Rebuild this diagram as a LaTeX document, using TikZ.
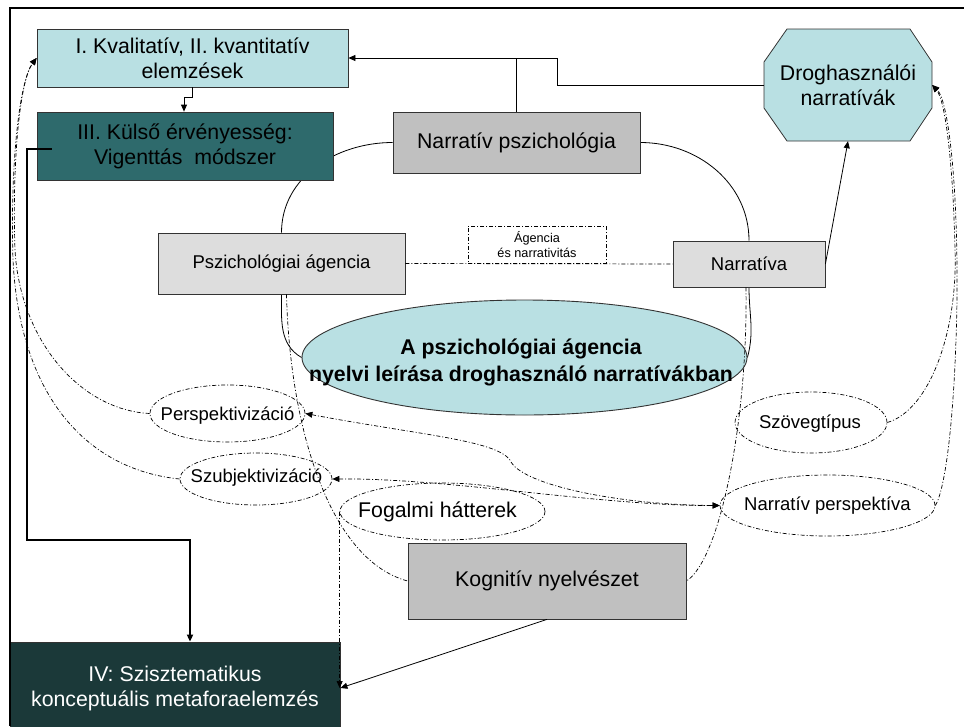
\documentclass[tikz,border=0pt]{standalone}
\usepackage{fontspec}
\setmainfont{Liberation Sans}
\usetikzlibrary{arrows.meta,shapes.geometric,backgrounds}
\definecolor{lcyan}{HTML}{B9E0E3}
\definecolor{tealIII}{HTML}{2E6A6C}
\definecolor{dteal}{HTML}{1B3939}
\definecolor{gmid}{HTML}{C0C0C0}
\definecolor{glight}{HTML}{DDDDDD}
\definecolor{bord}{HTML}{333333}
\begin{document}
\begin{tikzpicture}[x=1pt,y=-1pt,
  box/.style={draw=bord, line width=0.8pt, inner sep=0pt, align=center},
  big/.style={font=\fontsize{21.3}{25}\selectfont},
  med/.style={font=\fontsize{18.5}{22}\selectfont},
  small/.style={font=\fontsize{12.7}{15}\selectfont},
  dd/.style={line width=0.7pt, dash pattern=on 4pt off 2pt on 1pt off 2pt},
  oval/.style={ellipse, dd, draw=black, inner sep=0pt},
  arr/.style={-{Triangle[length=7pt,width=6pt]}},
  barr/.style={{Triangle[length=7pt,width=6pt]}-{Triangle[length=7pt,width=6pt]}},
  sl/.style={line width=0.8pt}
]
\useasboundingbox (0,0) rectangle (964,726);

% boxes
\node[box, fill=lcyan, big, minimum width=311pt, minimum height=58pt] (b1) at (192.5,58) {I. Kvalitatív, II. kvantitatív\\elemzések};
\node[box, fill=tealIII, big, minimum width=296pt, minimum height=68pt] (b3) at (185,146) {III. Külső érvényesség:\\Vigenttás~ módszer};
\node[box, fill=gmid, big, minimum width=247pt, minimum height=61pt] (np) at (516.5,142.5) {Narratív pszichológia};
\filldraw[draw=bord, line width=0.8pt, fill=lcyan] (764,62) -- (787,29) -- (910,29) -- (932,62) -- (932,108) -- (910,141) -- (787,141) -- (764,108) -- cycle;
\node[inner sep=0pt, minimum width=168pt, minimum height=112pt, big, align=center] (oct) at (848,85) {Droghasználói\\narratívák};
\node[box, fill=glight, med, minimum width=247pt, minimum height=61pt] (pa) at (281.5,263.5) {Pszichológiai ágencia};
\node[box, fill=glight, med, minimum width=152pt, minimum height=46pt] (narr) at (749,264) {Narratíva};
\node[draw=black, dd, small, align=center, inner sep=0pt, minimum width=138pt, minimum height=37pt] (agn) at (537,244.5) {Ágencia\\és narrativitás};
\node[ellipse, draw=bord, line width=0.9pt, fill=lcyan, inner sep=0pt, minimum width=445pt, minimum height=115pt] (ell) at (524.5,357.5) {};
\node[font=\bfseries\fontsize{21.3}{27}\selectfont, align=center, inner sep=0pt] (elltext) at (521,362) {A pszichológiai ágencia\\nyelvi leírása droghasználó narratívákban};

\node[oval, minimum width=155pt, minimum height=57pt] (persp) at (227.5,413.5) {};
\node[med, inner sep=0pt] (persptext) at (227.5,416) {Perspektivizáció};
\node[oval, minimum width=152pt, minimum height=52pt] (szubj) at (256,479) {};
\node[med, inner sep=0pt] (szubjtext) at (256.5,478) {Szubjektivizáció};
\node[oval, minimum width=205pt, minimum height=57pt] (fog) at (442.5,511.5) {};
\node[big, inner sep=0pt] (fogtext) at (437.5,512) {Fogalmi hátterek};
\node[oval, minimum width=152pt, minimum height=61pt] (szov) at (811,422.5) {};
\node[med, inner sep=0pt] (szovtext) at (810,424) {Szövegtípus};
\node[oval, minimum width=215pt, minimum height=61pt] (nper) at (827.5,505.5) {};
\node[med, inner sep=0pt] (npertext) at (827.5,506) {Narratív perspektíva};

\node[box, fill=gmid, big, minimum width=278pt, minimum height=76pt] (kogn) at (547,581) {Kognitív nyelvészet};
\node[box, fill=dteal, text=white, big, minimum width=330pt, minimum height=92pt] (b4) at (175,688) {IV: Szisztematikus\\konceptuális metaforaelemzés};

% solid curves behind boxes
\begin{scope}[on background layer]
\draw[sl] (np.west) to[out=180,in=90] (pa.north);
\draw[sl] (np.east) to[out=0,in=90] (narr.north);
\draw[sl] (pa.south) to[out=-90,in=150] (ell.west);
\draw[sl] (narr.south) to[out=-90,in=75] (ell.east);
\end{scope}

% solid connectors
\coordinate (e1) at (184,97);
\draw[sl, arr] (b1.south) |- (e1) -- (e1 |- b3.north);
\coordinate (j1) at (557,58);
\draw[sl, arr] (oct.west) -- (oct.west -| j1) -- (j1) -- (b1.east);
\draw[sl] (np.north) -- (np.north |- b1.east);
\draw[sl, arr] (narr.east) -- (oct.south);
\draw[sl, arr] (kogn.south) -- (b4.east);
\coordinate (t1) at (27,540);
\coordinate (t2) at (190,540);
\draw[line width=2.4pt, arr] ([xshift=15pt,yshift=-3pt]b3.west) -| (t1) -- (t2) -- (t2 |- b4.north);

% dash-dot connectors
\draw[dd] (pa.east) -- (narr.west);
\draw[dd] ([xshift=5pt]pa.south) .. controls (290,430) and (330,560) .. (kogn.west);
\draw[dd] ([xshift=-3pt]narr.south) .. controls (748,420) and (720,560) .. (kogn.east);
\draw[dd, arr] (fog.west) -- (fog.west |- b4.east);
\draw[dd, arr] (persp.west) .. controls (80,410) and (20,340) .. (15,250) .. controls (12,160) and (20,80) .. (b1.west);
\draw[dd, arr] (szubj.west) .. controls (90,470) and (20,400) .. (13,260) .. controls (10,160) and (20,80) .. (b1.west);
\draw[dd, barr] (persp.east) .. controls (420,435) and (495,440) .. (510,460) .. controls (520,485) and (620,505) .. (nper.west);
\draw[dd, barr] (szubj.east) .. controls (450,478) and (600,506) .. (nper.west);
\draw[dd, arr] (szov.east) .. controls (930,410) and (958,330) .. (955,250) .. controls (953,160) and (945,100) .. (oct.east);
\draw[dd, arr] (nper.east) .. controls (945,490) and (955,420) .. (957,300) .. controls (958,180) and (948,100) .. (oct.east);

% frame
\draw[line width=2.5pt] (10,726) -- (10,8) -- (964,8);
\end{tikzpicture}
\end{document}
